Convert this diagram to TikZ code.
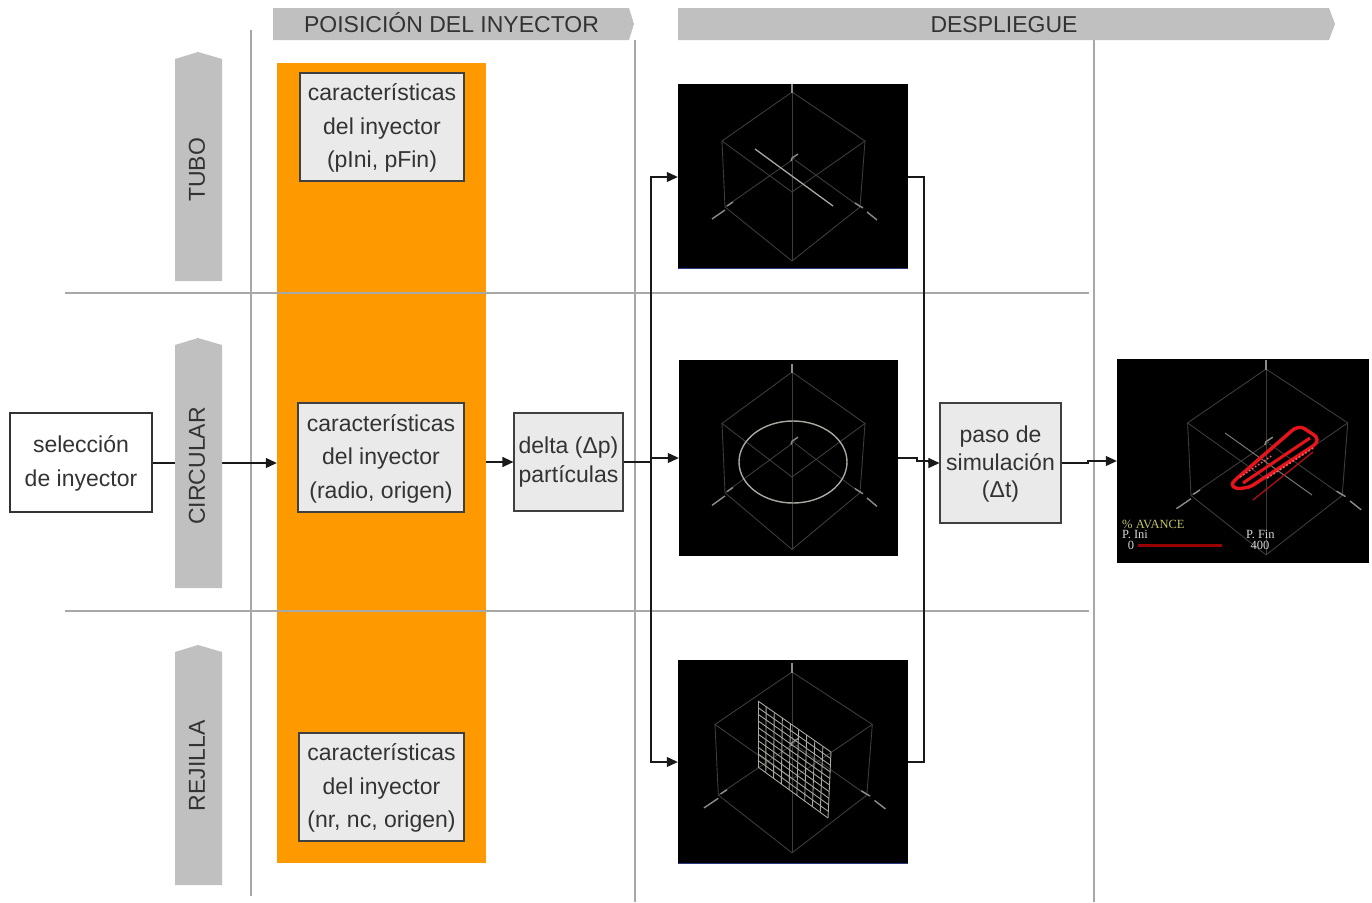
\documentclass[tikz,border=0pt]{standalone}
\usepackage{fontspec}
\setmainfont{Liberation Sans}
\newfontfamily\panelserif{Liberation Serif}
\usetikzlibrary{arrows.meta}
\definecolor{bandgray}{HTML}{C0C0C0}
\definecolor{ruleg}{HTML}{A8A8A8}
\definecolor{orangeband}{HTML}{FF9900}
\definecolor{boxfill}{HTML}{EAEAEA}
\definecolor{inkc}{HTML}{333333}
\definecolor{edgec}{HTML}{3C3C3C}
\definecolor{tickc}{HTML}{8C8C8C}
\definecolor{shapec}{HTML}{A8A8A0}
\definecolor{redtube}{HTML}{E8141C}
\definecolor{avance}{HTML}{C4C46C}
\definecolor{bluel}{HTML}{2A3A80}
\newcommand{\boxtext}[3]{\raisebox{#1}[0pt][0pt]{\fontsize{23}{#2}\selectfont\begin{tabular}{@{}c@{}}#3\end{tabular}}}
\tikzset{
  lbl/.style={font=\fontsize{23}{33.5}\selectfont,text=inkc,align=center,inner sep=0pt},
  whitebox/.style={draw=black!80,line width=1.1pt,fill=white,lbl,minimum width=#1},
  graybox/.style={draw=black!75,line width=1.1pt,fill=boxfill,lbl},
  conn/.style={draw=black!90,line width=1.1pt},
  arr/.style={conn,-{Triangle[length=11pt,width=10pt]}},
  rulel/.style={draw=ruleg,line width=1.1pt},
  panel/.style={fill=black,draw=none,inner sep=0pt},
  cubeedge/.style={draw=edgec,line width=0.9pt},
  cubetick/.style={draw=tickc,line width=1.4pt},
  band/.style={fill=bandgray,draw=none},
  paneltext/.style={font=\panelserif\fontsize{12.5}{13}\selectfont,inner sep=0pt},
}
\newcommand{\cubeframe}{%
  \draw[cubeedge] (0,-100)--(-70,-51)--(0,0)--(73,-51)--cycle;
  \draw[cubeedge] (-70,-51)--(-67,15)--(0,69)--(68,15)--(73,-51);
  \draw[cubeedge] (0,-100)--(0,69);
  \draw[cubeedge] (-67,15)--(3,-34);
  \draw[cubeedge] (68,15)--(3,-32);
  \draw[cubetick] (0,-108)--(0,-99);
  \draw[cubetick] (-65,14)--(-59,10) (-80,27)--(-67,18);
  \draw[cubetick] (63,11)--(71,16) (75,20)--(85,28);
  \draw[cubetick] (-1,-31)--(0,-34)--(6,-38);
}
\begin{document}
\begin{tikzpicture}[x=1pt,y=-1pt]
\useasboundingbox (0,0) rectangle (1372,902);
% orange band
\node[fill=orangeband,draw=none,minimum width=209pt,minimum height=800pt,inner sep=0pt] (orange) at (381.5,463) {};
% rules
\coordinate (rA1) at (251,30); \coordinate (rA2) at (251,896);
\coordinate (rB1) at (635,40); \coordinate (rB2) at (635,902);
\coordinate (rC1) at (1094,40); \coordinate (rC2) at (1094,902);
\coordinate (rD1) at (65,293); \coordinate (rD2) at (1089,293);
\coordinate (rE1) at (65,611); \coordinate (rE2) at (1089,611);
\draw[rulel] (rA1)--(rA2);
\draw[rulel] (rB1)--(rB2);
\draw[rulel] (rC1)--(rC2);
\draw[rulel] (rD1)--(rD2);
\draw[rulel] (rE1)--(rE2);
% headers
\fill[band] (273,8)--(629,8)--(634,24)--(629,40)--(273,40)--cycle;
\fill[band] (678,8)--(1329,8)--(1335,24)--(1329,40)--(678,40)--cycle;
\node[lbl,anchor=base] (h1) at (451.5,32) {POISICIÓN DEL INYECTOR};
\node[lbl,anchor=base] (h2) at (1004,32) {DESPLIEGUE};
% boxes
\node[whitebox=142pt,minimum height=99pt] (sel) at (81,462.5) {\boxtext{-6.75pt}{33.5}{selección\\de inyector}};
\node[graybox,minimum width=164pt,minimum height=108pt] (c1) at (382,127) {\boxtext{-6.75pt}{33.5}{características\\del inyector\\(pIni, pFin)}};
\node[graybox,minimum width=166pt,minimum height=109pt] (c2) at (381,457.5) {\boxtext{-6.75pt}{33.5}{características\\del inyector\\(radio, origen)}};
\node[graybox,minimum width=165pt,minimum height=108pt] (c3) at (381.5,787) {\boxtext{-6.75pt}{33.5}{características\\del inyector\\(nr, nc, origen)}};
\node[graybox,minimum width=109pt,minimum height=98pt] (delta) at (568.5,462) {\boxtext{-6.75pt}{29}{delta (Δp)\\partículas}};
\node[graybox,minimum width=121pt,minimum height=120pt] (paso) at (1000.5,463) {\boxtext{-7.75pt}{27.5}{paso de\\simulación\\(Δt)}};
% panels
\node[panel,minimum width=230pt,minimum height=184pt] (p1) at (793,176) {};
\node[panel,minimum width=219pt,minimum height=196pt] (p2) at (788.5,458) {};
\node[panel,minimum width=230pt,minimum height=203pt] (p3) at (793,761.5) {};
\node[panel,minimum width=252pt,minimum height=204pt] (p4) at (1243,461) {};
\draw[bluel,line width=1pt] (p1.south west)--(p1.south east);
\draw[bluel,line width=1pt] (p3.south west)--(p3.south east);
% connectors
\coordinate (jL) at (651,462);
\coordinate (jR) at (924,461);
\draw[arr] (sel.east|-orange.west) -- (orange.west);
\draw[arr] (orange.east|-delta.west) -- (delta.west);
\draw[conn] (delta.east) -- (jL);
\draw[arr] (jL) |- (p1.west|-0,177);
\draw[arr] (jL|-p2.west) -- (p2.west);
\draw[arr] (jL) |- (p3.west|-0,762);
\draw[conn] (p1.east|-0,177) -| (jR);
\draw[conn] (p3.east|-0,762) -| (jR);
\draw[arr] (p2.east) -- (917,458) -- (917,461) -- (jR) -- (929,461) -- (929,463) -- (paso.west);
\draw[arr] (paso.east) -- (1088,463) -- (1088,461) -- (p4.west);
% side labels
\fill[band] (175,59)--(198,52)--(222,59)--(222,281)--(175,281)--cycle;
\fill[band] (175,345)--(198,338)--(222,345)--(222,588)--(175,588)--cycle;
\fill[band] (175,652)--(198,645)--(222,652)--(222,885)--(175,885)--cycle;
\node[lbl,rotate=90] (s1) at (197,170) {TUBO};
\node[lbl,rotate=90] (s2) at (197,466) {CIRCULAR};
\node[lbl,rotate=90] (s3) at (197,766) {REJILLA};
% cube 1: tube
\begin{scope}[shift={(792,192)}]
  \cubeframe
  \draw[shapec,line width=1.3pt] (-37,-43)--(41,14);
\end{scope}
% cube 2: ring
\begin{scope}[shift={(792,477)},yscale=1.05]
  \cubeframe
\end{scope}
\draw[shapec,line width=1.4pt] (793,462) ellipse [x radius=54,y radius=41];
% cube 3: grid
\begin{scope}[shift={(792,779)},xscale=1.1,yscale=1.07]
  \cubeframe
\end{scope}
\begin{scope}[shapec,line width=0.9pt]
  \foreach \i in {0,...,9}
    \draw ({758+73*\i/9},{701+51*\i/9}) -- ({758+70*\i/9},{767+51*\i/9});
  \foreach \i in {0,...,10}
    \draw ({758},{701+66*\i/10}) -- ({831-3*\i/10},{752+66*\i/10});
\end{scope}
% cube 4: simulation
\begin{scope}
  \clip (p4.south west) rectangle (p4.north east);
  \begin{scope}[shift={(1266,479)},xscale=1.12,yscale=1.1]
    \cubeframe
  \end{scope}
\end{scope}
\draw[shapec!70!black,line width=1pt] (1225,433)--(1312,495);
\draw[redtube,line width=3.4pt,line join=round,rounded corners=3pt]
  (1231,485)--(1235,480)--(1295,428)--(1302,427)--(1317,437)--(1317,443)--(1310,448)--(1250,487)--(1237,489)--cycle;
\draw[redtube,line width=3pt] (1243,483)--(1310,438);
\draw[redtube!75!black,line width=1.3pt] (1253,500)--(1313,452);
\draw[redtube!70!white,line width=1.6pt,dotted] (1240,477)--(1273,455);
\draw[redtube!70!white,line width=1.8pt,dotted] (1267,478)--(1313,448);
\node[paneltext,text=avance,anchor=west] (av) at (1122,524) {\% AVANCE};
\node[paneltext,text=white!85!black,anchor=west] (pi) at (1122,534.5) {P. Ini};
\node[paneltext,text=white!85!black] (p0) at (1131,545) {0};
\node[paneltext,text=white!85!black,anchor=west] (pf) at (1246,534.5) {P. Fin};
\node[paneltext,text=white!85!black] (p400) at (1260,545) {400};
\draw[draw=red!60!black,line width=3pt] (1138,545) -- (1222,545);
\end{tikzpicture}
\end{document}
